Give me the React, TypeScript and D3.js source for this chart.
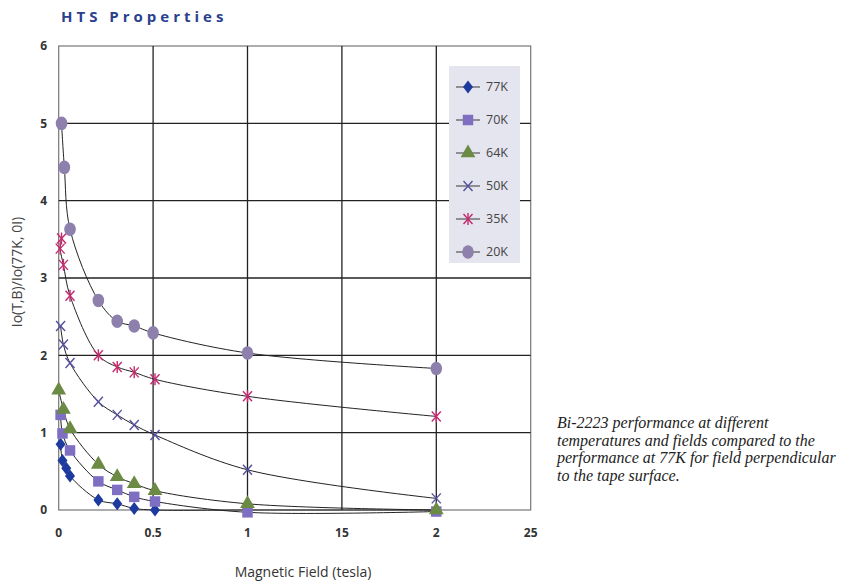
import * as d3 from "d3";

const seriesNames = ["77K", "70K", "64K", "50K", "35K", "20K"];

const x77 = [0.01, 0.02, 0.04, 0.06, 0.21, 0.31, 0.4, 0.51, 1, 2];
const y77 = [0.85, 0.64, 0.54, 0.44, 0.13, 0.08, 0.02, 0.0, 0.0, 0.0];

const x70 = [0.01, 0.02, 0.06, 0.21, 0.31, 0.4, 0.51, 1, 2];
const y70 = [1.23, 0.99, 0.77, 0.37, 0.26, 0.17, 0.11, -0.03, -0.02];

const x64 = [0.0, 0.025, 0.06, 0.21, 0.31, 0.4, 0.51, 1, 2];
const y64 = [1.55, 1.3, 1.05, 0.59, 0.43, 0.34, 0.25, 0.08, 0.0];

const x50 = [0.01, 0.025, 0.06, 0.21, 0.31, 0.4, 0.51, 1, 2];
const y50 = [2.38, 2.14, 1.9, 1.4, 1.23, 1.1, 0.97, 0.52, 0.15];

const x35 = [0.015, 0.008, 0.025, 0.06, 0.21, 0.31, 0.4, 0.51, 1, 2];
const y35 = [3.51, 3.38, 3.17, 2.77, 2.0, 1.85, 1.78, 1.69, 1.47, 1.21];

const x20 = [0.015, 0.03, 0.06, 0.21, 0.31, 0.4, 0.5, 1, 2];
const y20 = [5.0, 4.43, 3.63, 2.71, 2.44, 2.38, 2.29, 2.03, 1.83];

const xTicks = [0, 0.5, 1, 1.5, 2, 2.5];
const xTickLabels = ["0", "0.5", "1", "15", "2", "25"];
const yTicks = [0, 1, 2, 3, 4, 5, 6];

const caption = [
  "Bi-2223 performance at different",
  "temperatures and fields compared to the",
  "performance at 77K for field perpendicular",
  "to the tape surface.",
];

const colors = ["#1d3a9e", "#7f6fc2", "#6b8b45", "#54509e", "#c42a6e", "#8d80ad"];

function Marker({ kind, color }: { kind: number; color: string }) {
  if (kind === 0) {
    return <path d="M0,-6.5L5,0L0,6.5L-5,0Z" fill={color} />;
  }
  if (kind === 1) {
    return <path d={d3.symbol(d3.symbolSquare, 110)()!} fill={color} />;
  }
  if (kind === 2) {
    return <path d={d3.symbol(d3.symbolTriangle, 95)()!} fill={color} />;
  }
  if (kind === 3) {
    return (
      <g stroke={color} strokeWidth={1.4}>
        <line x1={-4.5} y1={-5} x2={4.5} y2={5} />
        <line x1={-4.5} y1={5} x2={4.5} y2={-5} />
      </g>
    );
  }
  if (kind === 4) {
    return (
      <g stroke={color} strokeWidth={1.4}>
        <line x1={-4.5} y1={-5} x2={4.5} y2={5} />
        <line x1={-4.5} y1={5} x2={4.5} y2={-5} />
        <line x1={0} y1={-6} x2={0} y2={6} />
      </g>
    );
  }
  return <ellipse rx={5.8} ry={6.8} fill={color} />;
}

export default function App() {
  const width = 858;
  const height = 587;
  const left = 58.7;
  const right = 530.7;
  const top = 46;
  const bottom = 510;

  const x = d3.scaleLinear().domain([0, 2.5]).range([left, right]);
  const y = d3.scaleLinear().domain([0, 6]).range([bottom, top]);

  const xs = [x77, x70, x64, x50, x35, x20];
  const ys = [y77, y70, y64, y50, y35, y20];
  const series = seriesNames.map((name, i) => ({
    name,
    color: colors[i],
    points: xs[i].map((v, j) => [v, ys[i][j]] as [number, number]),
  }));

  const line = d3
    .line<[number, number]>()
    .x((d) => x(d[0]))
    .y((d) => y(d[1]))
    .curve(d3.curveCatmullRom.alpha(0.5));

  const tickFont = "'Open Sans', 'Noto Sans', sans-serif";

  return (
    <svg
      width={width}
      height={height}
      style={{ position: "absolute", left: 0, top: 0, background: "#fff" }}
    >
      <text
        x={61}
        y={22}
        fontFamily="'Open Sans', sans-serif"
        fontWeight="bold"
        fontSize={15}
        letterSpacing={4}
        fill="#2b3f8f"
      >
        HTS Properties
      </text>

      <rect x={left} y={top} width={right - left} height={bottom - top} fill="none" stroke="#777" strokeWidth={1.2} />
      <g stroke="#222" strokeWidth={1.3}>
        {xTicks.slice(1, -1).map((t) => (
          <line key={t} x1={x(t)} x2={x(t)} y1={top} y2={bottom} />
        ))}
        {yTicks.slice(1, -1).map((t) => (
          <line key={t} x1={left} x2={right} y1={y(t)} y2={y(t)} />
        ))}
      </g>

      <g fontFamily={tickFont} fontSize={12} fontWeight="bold" fill="#333">
        {yTicks.map((t) => (
          <text key={t} x={47} y={y(t)} dy="0.35em" textAnchor="end">
            {t}
          </text>
        ))}
        {xTicks.map((t, i) => (
          <text key={t} x={x(t)} y={537} textAnchor="middle">
            {xTickLabels[i]}
          </text>
        ))}
      </g>

      <text
        transform={`translate(22,272) rotate(-90)`}
        textAnchor="middle"
        fontFamily={tickFont}
        fontSize={14}
        fill="#444"
      >
        Io(T,B)/Io(77K, 0I)
      </text>
      <text x={303} y={577} textAnchor="middle" fontFamily={tickFont} fontSize={14} fill="#333">
        Magnetic Field (tesla)
      </text>

      <g fill="none" stroke="#222" strokeWidth={1}>
        {series.map((s) => (
          <path key={s.name} d={line(s.points)!} />
        ))}
      </g>

      {series.map((s, i) => (
        <g key={s.name}>
          {s.points.map((p, j) => (
            <g key={j} transform={`translate(${x(p[0])},${y(p[1])})`}>
              <Marker kind={i} color={s.color} />
            </g>
          ))}
        </g>
      ))}

      <rect x={449} y={66} width={71} height={197} fill="#e5e5ef" />
      {series.map((s, i) => {
        const ly = 87 + i * 33;
        return (
          <g key={s.name} transform={`translate(0,${ly})`}>
            <line x1={456} x2={480} y1={0} y2={0} stroke="#555" strokeWidth={1.2} />
            <g transform="translate(468,0)">
              <Marker kind={i} color={s.color} />
            </g>
            <text x={486} y={0} dy="0.35em" fontFamily={tickFont} fontSize={12.5} fill="#444">
              {s.name}
            </text>
          </g>
        );
      })}

      <g fontFamily="'Liberation Serif', serif" fontStyle="italic" fontSize={16} fill="#222">
        {caption.map((c, i) => (
          <text key={i} x={557} y={428 + i * 17.7}>
            {c}
          </text>
        ))}
      </g>
    </svg>
  );
}
